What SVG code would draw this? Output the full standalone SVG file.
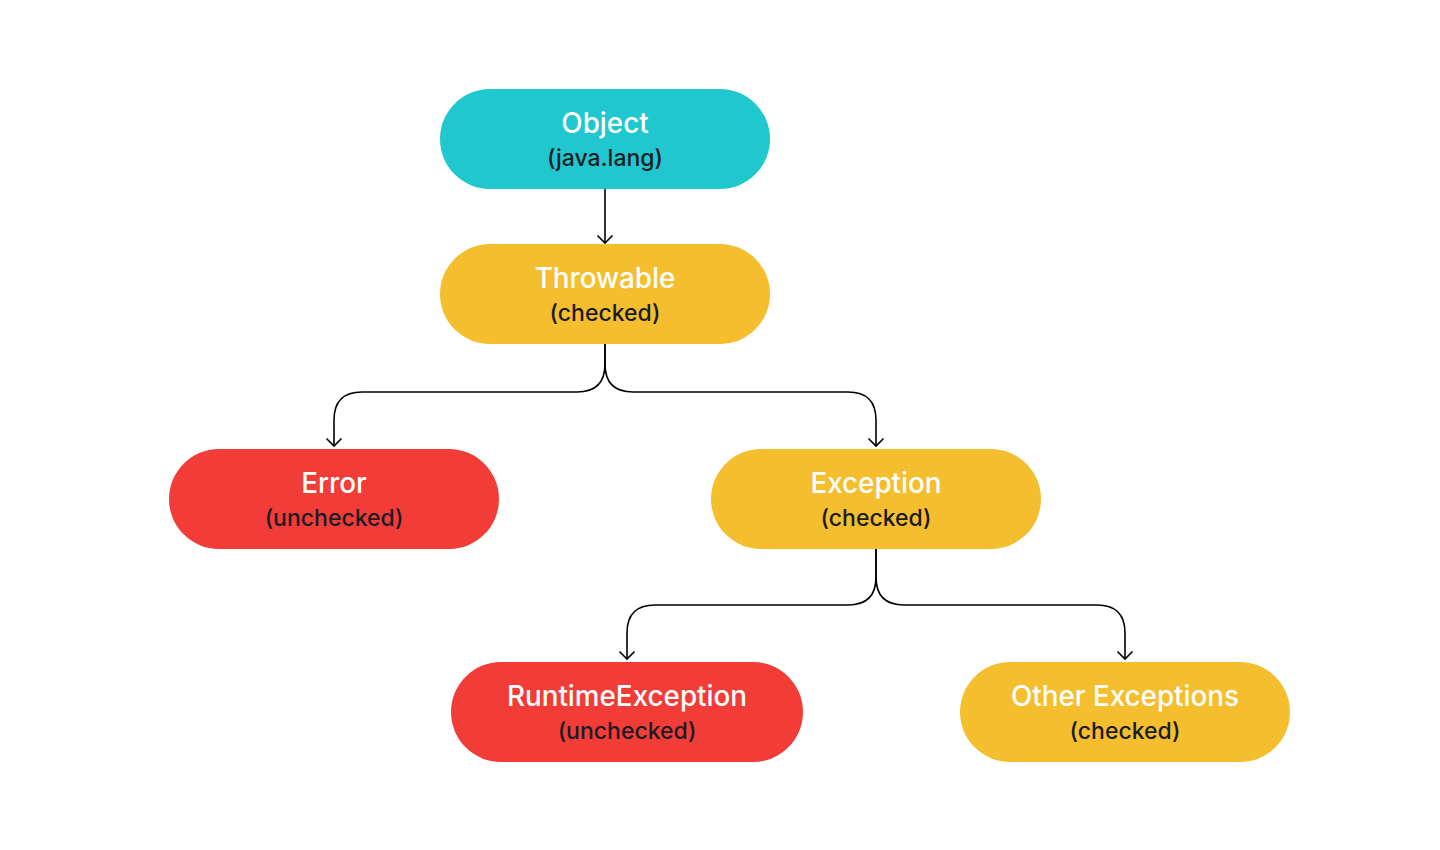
<svg xmlns="http://www.w3.org/2000/svg" width="1440" height="850" viewBox="0 0 1440 850">
<style>
.t{font-family:Inter,"Noto Sans",sans-serif;font-size:27.8px;font-weight:500;fill:#fff;text-anchor:middle}
.s{font-family:Inter,"Noto Sans",sans-serif;font-size:23px;font-weight:500;fill:#1b1b24;text-anchor:middle}
.c{fill:none;stroke:#000;stroke-width:1.6}
.teal{fill:#21C7CE}.yel{fill:#F5BE2E}.red{fill:#F13C38}
</style>
<rect width="1440" height="850" fill="#fff"/>
<g id="connectors">
<path class="c" d="M605 189V243"/>
<path class="c" d="M597.5 235.5L605 243L612.5 235.5"/>
<path class="c" d="M605 344V364Q605 392 577 392H362Q334 392 334 420V446"/>
<path class="c" d="M326.5 438.5L334 446L341.5 438.5"/>
<path class="c" d="M605 344V364Q605 392 633 392H848Q876 392 876 420V446"/>
<path class="c" d="M868.5 438.5L876 446L883.5 438.5"/>
<path class="c" d="M876 549V577Q876 605 848 605H655Q627 605 627 633V659"/>
<path class="c" d="M619.5 651.5L627 659L634.5 651.5"/>
<path class="c" d="M876 549V577Q876 605 904 605H1097Q1125 605 1125 633V659"/>
<path class="c" d="M1117.5 651.5L1125 659L1132.5 651.5"/>
</g>
<g id="object"><rect class="teal" x="440" y="89" width="330" height="100" rx="50"/><text class="t" x="605" y="133">Object</text><text class="s" x="605" y="166">(java.lang)</text></g>
<g id="throwable"><rect class="yel" x="440" y="244" width="330" height="100" rx="50"/><text class="t" x="605" y="288">Throwable</text><text class="s" x="605" y="321">(checked)</text></g>
<g id="error"><rect class="red" x="169" y="449" width="330" height="100" rx="50"/><text class="t" x="334" y="493">Error</text><text class="s" x="334" y="526">(unchecked)</text></g>
<g id="exception"><rect class="yel" x="711" y="449" width="330" height="100" rx="50"/><text class="t" x="876" y="493">Exception</text><text class="s" x="876" y="526">(checked)</text></g>
<g id="runtime"><rect class="red" x="451" y="662" width="352" height="100" rx="50"/><text class="t" x="627" y="706">RuntimeException</text><text class="s" x="627" y="739">(unchecked)</text></g>
<g id="other"><rect class="yel" x="960" y="662" width="330" height="100" rx="50"/><text class="t" x="1125" y="706">Other Exceptions</text><text class="s" x="1125" y="739">(checked)</text></g>
</svg>
